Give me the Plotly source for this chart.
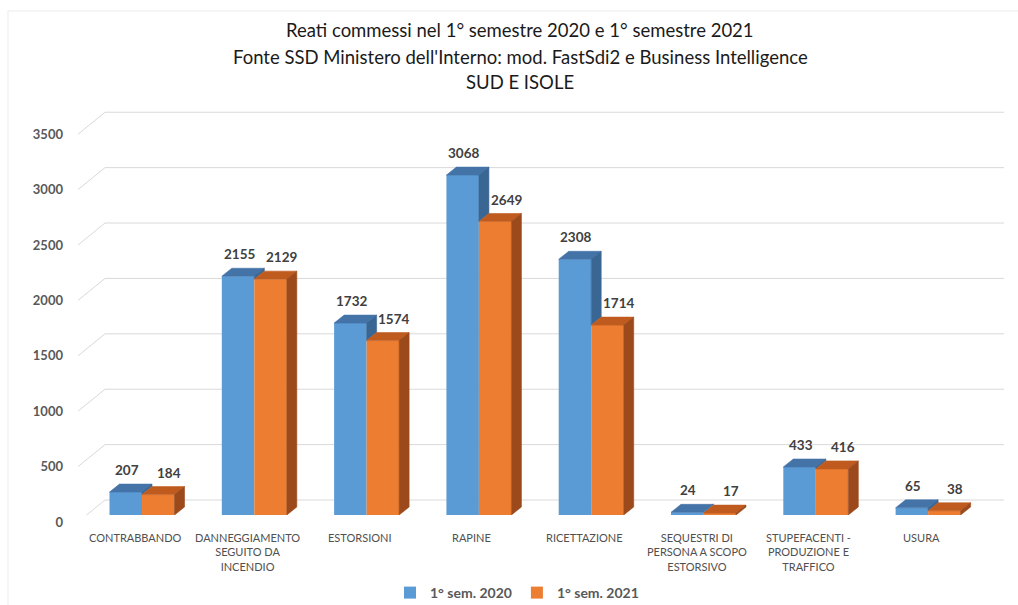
import plotly.graph_objects as go

# ---- data -------------------------------------------------------------
categories = [
    "CONTRABBANDO",
    "DANNEGGIAMENTO<br>SEGUITO DA<br>INCENDIO",
    "ESTORSIONI",
    "RAPINE",
    "RICETTAZIONE",
    "SEQUESTRI DI<br>PERSONA A SCOPO<br>ESTORSIVO",
    "STUPEFACENTI -<br>PRODUZIONE E<br>TRAFFICO",
    "USURA",
]
sem_2020 = [207, 2155, 1732, 3068, 2308, 24, 433, 65]
sem_2021 = [184, 2129, 1574, 2649, 1714, 17, 416, 38]
series_names = ["1° sem. 2020", "1° sem. 2021"]
y_ticks = [0, 500, 1000, 1500, 2000, 2500, 3000, 3500]

title_lines = [
    "Reati commessi nel 1° semestre 2020 e 1° semestre 2021",
    "Fonte SSD Ministero dell'Interno: mod. FastSdi2 e Business Intelligence",
    "SUD E ISOLE",
]

# ---- geometry ---------------------------------------------------------
W, H = 1018, 605
ML, MR, MT, MB = 78, 14, 94, 90
PLOT_W = W - ML - MR
PLOT_H = H - MT - MB
Y_MAX = 3800
PX_PER_CAT = 112.3
PX_PER_UNIT = PLOT_H / Y_MAX
X_LEFT = -0.57
X_RIGHT = X_LEFT + PLOT_W / PX_PER_CAT


def px_x(p):
    """horizontal pixel distance -> category units"""
    return p / PX_PER_CAT


def px_y(p):
    """vertical pixel distance -> value units"""
    return p / PX_PER_UNIT


BAR_W = px_x(32.5)          # width of one bar face
DX = px_x(10)               # depth offset, horizontal
DY = px_y(8)                # depth offset, vertical
WALL_DX = 27                # floor depth in px (front-left to back wall)
WALL_UP = 15                # back wall above the bar base, px
LABEL_DOWN = 7              # axis labels below the bar base, px
LABEL_XSHIFT = (1, 11)      # value label offset per series, px

FONT = "Lato"
BLUE = "#5B9BD5"
BLUE_TOP = "#4473A8"
BLUE_SIDE = "#3A6693"
ORANGE = "#ED7D31"
ORANGE_TOP = "#BF5B1F"
ORANGE_SIDE = "#9C4A1C"
GRID = "#D9D9D9"

idx = list(range(len(categories)))
x_blue = [i - BAR_W / 2 for i in idx]
x_orange = [i + BAR_W / 2 for i in idx]

fig = go.Figure()

# front faces
fig.add_trace(go.Bar(x=x_blue, y=sem_2020, width=BAR_W, name=series_names[0],
                     marker=dict(color=BLUE, line=dict(width=0)), hoverinfo="skip"))
fig.add_trace(go.Bar(x=x_orange, y=sem_2021, width=BAR_W, name=series_names[1],
                     marker=dict(color=ORANGE, line=dict(width=0)), hoverinfo="skip"))


def top_face(xc, v):
    xl, xr = xc - BAR_W / 2, xc + BAR_W / 2
    return [xl, xr, xr + DX, xl + DX, xl, None], [v, v, v + DY, v + DY, v, None]


def side_face(xc, v, lo=0):
    xr = xc + BAR_W / 2
    return [xr, xr + DX, xr + DX, xr, xr, None], [lo, lo + DY, v + DY, v, lo, None]


def poly_trace(xs, ys, color):
    return go.Scatter(x=xs, y=ys, mode="lines", fill="toself", fillcolor=color,
                      line=dict(color=color, width=0.6), showlegend=False,
                      hoverinfo="skip")


# blue tops and visible part of the blue sides (above the orange neighbour)
bx, by, sx, sy = [], [], [], []
for xc, v, o in zip(x_blue, sem_2020, sem_2021):
    a, b = top_face(xc, v)
    bx += a; by += b
    if v > o:
        a, b = side_face(xc, v, lo=o)
        sx += a; sy += b
fig.add_trace(poly_trace(bx, by, BLUE_TOP))
fig.add_trace(poly_trace(sx, sy, BLUE_SIDE))

ox, oy, osx, osy = [], [], [], []
for xc, v in zip(x_orange, sem_2021):
    a, b = top_face(xc, v)
    ox += a; oy += b
    a, b = side_face(xc, v)
    osx += a; osy += b
fig.add_trace(poly_trace(ox, oy, ORANGE_TOP))
fig.add_trace(poly_trace(osx, osy, ORANGE_SIDE))

# back-wall gridlines and floor diagonals
shapes = []
for t in y_ticks:
    shapes.append(dict(type="line", xref="x", yref="y", layer="below",
                       x0=X_LEFT + px_x(WALL_DX), x1=X_RIGHT,
                       y0=t + px_y(WALL_UP), y1=t + px_y(WALL_UP),
                       line=dict(color=GRID, width=1)))
    shapes.append(dict(type="line", xref="x", yref="y", layer="below",
                       x0=X_LEFT, x1=X_LEFT + px_x(WALL_DX),
                       y0=t - px_y(LABEL_DOWN), y1=t + px_y(WALL_UP),
                       line=dict(color=GRID, width=1)))
# chart area border
shapes.append(dict(type="rect", xref="paper", yref="paper", layer="below",
                   x0=(8 - ML) / PLOT_W, x1=(W + 4 - ML) / PLOT_W,
                   y0=-(MB + 4) / PLOT_H, y1=(PLOT_H + MT - 11) / PLOT_H,
                   line=dict(color="#EBEBEB", width=1), fillcolor="rgba(0,0,0,0)"))

annotations = []
# value labels
for xs, vals, shift in ((x_blue, sem_2020, LABEL_XSHIFT[0]),
                        (x_orange, sem_2021, LABEL_XSHIFT[1])):
    for xc, v in zip(xs, vals):
        annotations.append(dict(x=xc, y=v, xref="x", yref="y",
                                text=f"<b>{v}</b>", showarrow=False,
                                yanchor="bottom", yshift=12, xshift=shift,
                                font=dict(family=FONT, size=13.5, color="#404040")))
# category labels
for i, c in zip(idx, categories):
    annotations.append(dict(x=i, y=0, xref="x", yref="y", text=c, showarrow=False,
                            yanchor="top", yshift=-14, xshift=-7, align="center",
                            font=dict(family=FONT, size=11, color="#505050")))
# title lines
for py, line in zip((30, 57, 82), title_lines):
    annotations.append(dict(x=(520 - ML) / PLOT_W, y=(H - MB - py) / PLOT_H,
                            xref="paper", yref="paper", text=line, showarrow=False,
                            xanchor="center", yanchor="middle",
                            font=dict(family=FONT, size=18.5, color="#1a1a1a")))

fig.update_layout(
    width=W, height=H,
    margin=dict(l=ML, r=MR, t=MT, b=MB),
    paper_bgcolor="white", plot_bgcolor="white",
    barmode="overlay",
    showlegend=True,
    legend=dict(orientation="h", x=(517 - ML) / PLOT_W, xanchor="center",
                yref="container", y=(H - 593) / H, yanchor="middle",
                font=dict(family=FONT, size=14, color="#595959", weight="bold"),
                itemclick=False, itemdoubleclick=False),
    xaxis=dict(range=[X_LEFT, X_RIGHT], showgrid=False, zeroline=False,
               showticklabels=False, showline=False, fixedrange=True),
    yaxis=dict(range=[0, Y_MAX], tickvals=y_ticks, showgrid=False, zeroline=False,
               showline=False, ticklabelshift=LABEL_DOWN, ticklabelstandoff=14,
               tickfont=dict(family=FONT, size=13, color="#595959", weight="bold"),
               fixedrange=True),
    shapes=shapes,
    annotations=annotations,
)

fig.write_html("out.html")
